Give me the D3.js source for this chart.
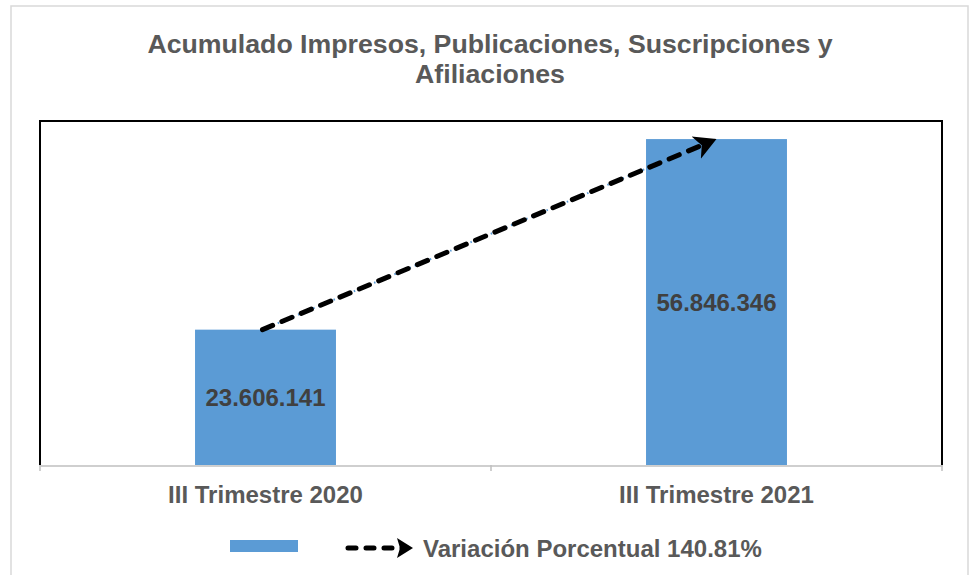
<!DOCTYPE html>
<html>
<head>
<meta charset="utf-8">
<script src="https://cdn.jsdelivr.net/npm/d3@7"></script>
<style>
  html, body { margin: 0; padding: 0; background: #ffffff; }
  svg { display: block; font-family: Arial, "Liberation Sans", sans-serif; }
</style>
</head>
<body>
<svg id="chart" width="969" height="575"></svg>
<script>
// ---- data ----
const titleLines = ["Acumulado Impresos, Publicaciones, Suscripciones y", "Afiliaciones"];
const categories = ["III Trimestre 2020", "III Trimestre 2021"];
const values = [23606141, 56846346];
const valueLabels = ["23.606.141", "56.846.346"];
const yDomain = [0, 60000000];
const legendLabel = "Variación Porcentual 140.81%";

// ---- layout ----
const W = 969, H = 575;
const plot = { left: 40, right: 942, top: 121, bottom: 465 };
const barColor = "#5B9BD5";
const textColor = "#595959";

const svg = d3.select("#chart");
svg.append("rect").attr("width", W).attr("height", H).attr("fill", "#fff");

// outer chart border
svg.append("rect")
  .attr("x", 11).attr("y", 6).attr("width", 957).attr("height", 580)
  .attr("fill", "none").attr("stroke", "#d9d9d9").attr("stroke-width", 1.5);

// title
svg.append("text")
  .attr("text-anchor", "middle")
  .attr("font-size", 26.7).attr("font-weight", "bold").attr("fill", textColor)
  .selectAll("tspan").data(titleLines).join("tspan")
  .attr("x", 490).attr("y", (d, i) => 53 + i * 30).text(d => d);

// scales
const x = d3.scaleBand().domain(categories).range([plot.left, plot.right]).padding(0);
const gapWidth = 2.2;
const barW = x.bandwidth() / (1 + gapWidth);
const y = d3.scaleLinear().domain(yDomain).range([plot.bottom, plot.top]);

// plot area border (left, top, right)
svg.append("path")
  .attr("d", `M${plot.left},${plot.bottom} V${plot.top} H${plot.right} V${plot.bottom}`)
  .attr("fill", "none").attr("stroke", "#000").attr("stroke-width", 2);

// bars
svg.append("g").selectAll("rect").data(categories).join("rect")
  .attr("x", d => x(d) + (x.bandwidth() - barW) / 2)
  .attr("y", (d, i) => y(values[i]))
  .attr("width", barW)
  .attr("height", (d, i) => y(0) - y(values[i]))
  .attr("fill", barColor);

// x axis
const axis = svg.append("g")
  .attr("transform", `translate(0,${plot.bottom + 0.5})`)
  .call(d3.axisBottom(x).tickSize(0).tickPadding(20));
axis.select(".domain").attr("stroke", "#bfbfbf").attr("stroke-width", 1.5);
axis.selectAll("text")
  .attr("font-size", 24).attr("font-weight", "bold").attr("fill", textColor)
  .attr("font-family", "Arial, 'Liberation Sans', sans-serif");
// boundary tick marks
const bounds = categories.map(c => x(c)).concat([x.range()[1]]);
svg.append("g").selectAll("line").data(bounds).join("line")
  .attr("x1", d => d).attr("x2", d => d)
  .attr("y1", plot.bottom).attr("y2", plot.bottom + 6)
  .attr("stroke", "#bfbfbf").attr("stroke-width", 1.5);

// data labels
svg.append("g").selectAll("text").data(categories).join("text")
  .attr("x", d => x(d) + x.bandwidth() / 2)
  .attr("y", (d, i) => (y(values[i]) + y(0)) / 2 + 8.5)
  .attr("text-anchor", "middle")
  .attr("font-size", 24).attr("font-weight", "bold").attr("fill", "#404040")
  .text((d, i) => valueLabels[i]);

// arrow marker
const defs = svg.append("defs");
defs.append("marker")
  .attr("id", "head").attr("markerUnits", "userSpaceOnUse")
  .attr("viewBox", "0 -13 22 26").attr("refX", 12).attr("refY", 0)
  .attr("markerWidth", 22).attr("markerHeight", 26).attr("orient", "auto")
  .append("path").attr("d", "M0,-12 L22,0 L0,12 L6,0 Z").attr("fill", "#000");

// trend line (from top of bar 1 to top of bar 2)
const pts = categories.map((c, i) => [x(c) + x.bandwidth() / 2 - (i === 0 ? 3 : 0), y(values[i])]);
const [p1, p2] = pts;
const dx = p2[0] - p1[0], dy = p2[1] - p1[1];
const len = Math.hypot(dx, dy);
const shorten = 10;
const pe = [p2[0] - dx / len * shorten, p2[1] - dy / len * shorten];

svg.append("line")
  .attr("x1", p1[0]).attr("y1", p1[1]).attr("x2", p2[0]).attr("y2", p2[1])
  .attr("stroke", barColor).attr("stroke-width", 2).attr("stroke-dasharray", "1.5,4");
svg.append("line")
  .attr("x1", p1[0]).attr("y1", p1[1]).attr("x2", pe[0]).attr("y2", pe[1])
  .attr("stroke", "#000").attr("stroke-width", 5)
  .attr("stroke-linecap", "round").attr("stroke-dasharray", "11,10")
  .attr("marker-end", "url(#head)");

// legend
svg.append("rect")
  .attr("x", 230).attr("y", 540).attr("width", 68).attr("height", 12)
  .attr("fill", barColor);
defs.append("marker")
  .attr("id", "headL").attr("markerUnits", "userSpaceOnUse")
  .attr("viewBox", "0 -11 16 22").attr("refX", 6).attr("refY", 0)
  .attr("markerWidth", 16).attr("markerHeight", 22).attr("orient", "auto")
  .append("path").attr("d", "M0,-10 L16,0 L0,10 L3,0 Z").attr("fill", "#000");
svg.append("line")
  .attr("x1", 348).attr("y1", 548).attr("x2", 403).attr("y2", 548)
  .attr("stroke", "#000").attr("stroke-width", 5)
  .attr("stroke-linecap", "round").attr("stroke-dasharray", "8,10")
  .attr("marker-end", "url(#headL)");
svg.append("text")
  .attr("x", 423).attr("y", 556.5)
  .attr("font-size", 24).attr("font-weight", "bold").attr("fill", textColor)
  .text(legendLabel);
</script>
</body>
</html>
